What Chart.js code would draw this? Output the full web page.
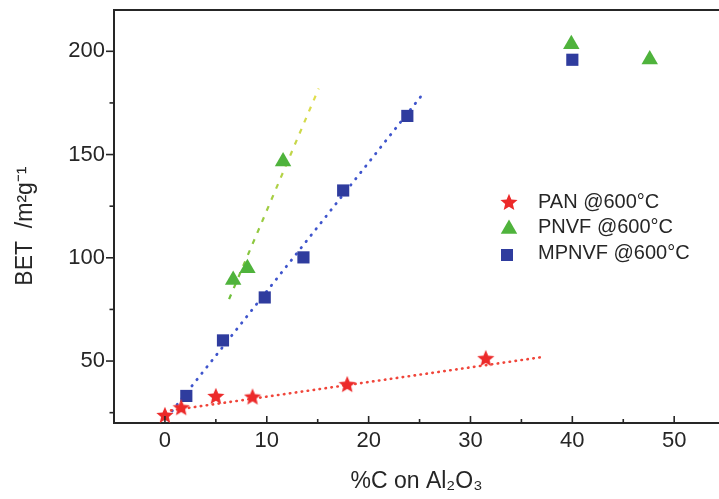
<!DOCTYPE html>
<html>
<head>
<meta charset="utf-8">
<script src="https://cdn.jsdelivr.net/npm/chart.js@4/dist/chart.umd.min.js"></script>
<style>
  html, body { margin: 0; padding: 0; background: #ffffff; }
  canvas { display: block; }
</style>
</head>
<body>
<canvas id="c" width="719" height="499"></canvas>
<script>
// ---- data ----
const seriesNames = ['PAN @600°C', 'PNVF @600°C', 'MPNVF @600°C'];

const panX = [0, 1.6, 5.0, 8.6, 17.9, 31.5];
const panY = [23.9, 27.6, 33.1, 32.8, 38.8, 51.4];

const pnvfX = [6.7, 8.1, 11.6, 39.9, 47.6];
const pnvfY = [89.2, 94.9, 146.6, 203.4, 196.0];

const mpnvfX = [2.1, 5.7, 9.8, 13.6, 17.5, 23.8, 40.0];
const mpnvfY = [33.1, 60.0, 80.8, 100.2, 132.6, 168.7, 195.9];

// linear trend lines (end points)
const panFitX = [0.6, 37.0];
const panFitY = [26.1, 51.9];
const pnvfFitX = [6.3, 15.1];
const pnvfFitY = [80.0, 182.0];
const mpnvfFitX = [0.7, 25.3];
const mpnvfFitY = [25.8, 179.2];

// axis ticks
const xTicks = [0, 10, 20, 30, 40, 50];
const xMinorTicks = [5, 15, 25, 35, 45];
const yTicks = [50, 100, 150, 200];
const yMinorTicks = [25, 75, 125, 175];

const xTitle = '%C on Al₂O₃';
const yTitle = 'BET  /m²g⁻¹   ';

// ---- styles ----
const RED = '#ec2a2a';
const GREEN = '#4fb33c';
const BLUE = '#2f3c9e';
const AXIS = '#262626';
const FONT = "'Liberation Sans', Arial, sans-serif";

function pts(xs, ys) { return xs.map((x, i) => ({ x: x, y: ys[i] })); }

function makeStar(size, color) {
  const c = document.createElement('canvas');
  c.width = size; c.height = size;
  const g = c.getContext('2d');
  const cx = size / 2, cy = size / 2 + 0.8, R = size / 2, r = R * 0.45;
  g.beginPath();
  for (let i = 0; i < 10; i++) {
    const a = -Math.PI / 2 + i * Math.PI / 5;
    const rr = (i % 2) ? r : R;
    g.lineTo(cx + rr * Math.cos(a), cy + rr * Math.sin(a));
  }
  g.closePath();
  g.fillStyle = color;
  g.fill();
  return c;
}
const starImg = makeStar(18, RED);

function greenGradient(context) {
  const ch = context.chart;
  const y = ch.scales && ch.scales.y;
  if (!y || !ch.chartArea) return '#b5d23c';
  const g = ch.ctx.createLinearGradient(0, y.getPixelForValue(pnvfFitY[0]), 0, y.getPixelForValue(pnvfFitY[1]));
  g.addColorStop(0, '#6cbf3a');
  g.addColorStop(1, '#e6df4e');
  return g;
}

const axisDecor = {
  id: 'axisDecor',
  afterDraw(chart) {
    const { ctx, chartArea: a, scales: { x, y } } = chart;
    ctx.save();
    ctx.strokeStyle = AXIS;
    ctx.lineCap = 'butt';
    // top frame line
    ctx.lineWidth = 2;
    ctx.beginPath(); ctx.moveTo(a.left - 1, a.top); ctx.lineTo(a.right, a.top); ctx.stroke();
    ctx.lineWidth = 1.6;
    const seg = (x1, y1, x2, y2) => { ctx.beginPath(); ctx.moveTo(x1, y1); ctx.lineTo(x2, y2); ctx.stroke(); };
    xTicks.forEach(v => { const p = x.getPixelForValue(v); seg(p, a.bottom, p, a.bottom - 7); });
    xMinorTicks.forEach(v => { const p = x.getPixelForValue(v); seg(p, a.bottom, p, a.bottom - 4); });
    yTicks.forEach(v => { const p = y.getPixelForValue(v); seg(a.left, p, a.left - 8, p); });
    yMinorTicks.forEach(v => { const p = y.getPixelForValue(v); seg(a.left, p, a.left - 4.5, p); });

    // legend
    const lx = 509, tx = 538, rows = [202, 227, 253];
    ctx.drawImage(starImg, lx - 9, rows[0] - 9);
    ctx.fillStyle = GREEN;
    const tr = 9.5, tcy = rows[1] + 2;
    ctx.beginPath();
    ctx.moveTo(lx, tcy - tr);
    ctx.lineTo(lx + tr * 0.866, tcy + tr * 0.5);
    ctx.lineTo(lx - tr * 0.866, tcy + tr * 0.5);
    ctx.closePath(); ctx.fill();
    ctx.fillStyle = BLUE;
    ctx.fillRect(lx - 8, rows[2] + 2 - 6, 12, 12);
    ctx.fillStyle = AXIS;
    ctx.font = '20px ' + FONT;
    ctx.textBaseline = 'middle';
    ctx.textAlign = 'left';
    seriesNames.forEach((n, i) => ctx.fillText(n, tx, rows[i]));
    ctx.restore();
  }
};

new Chart(document.getElementById('c'), {
  type: 'scatter',
  data: {
    datasets: [
      { label: seriesNames[0], data: pts(panX, panY), pointStyle: starImg, pointRadius: 9, showLine: false },
      { label: seriesNames[1], data: pts(pnvfX, pnvfY), pointStyle: 'triangle', pointRadius: 9.5,
        backgroundColor: GREEN, borderColor: GREEN, borderWidth: 0, showLine: false },
      { label: seriesNames[2], data: pts(mpnvfX, mpnvfY), pointStyle: 'rect', pointRadius: 8.6,
        backgroundColor: BLUE, borderColor: BLUE, borderWidth: 0, showLine: false },
      { label: 'PAN fit', data: pts(panFitX, panFitY), showLine: true, pointRadius: 0,
        borderColor: '#f0453a', borderWidth: 2.6, borderDash: [0.5, 5.5], borderCapStyle: 'round' },
      { label: 'PNVF fit', data: pts(pnvfFitX, pnvfFitY), showLine: true, pointRadius: 0,
        borderColor: greenGradient, borderWidth: 2.2, borderDash: [5, 7], borderCapStyle: 'butt' },
      { label: 'MPNVF fit', data: pts(mpnvfFitX, mpnvfFitY), showLine: true, pointRadius: 0,
        borderColor: '#3f55cc', borderWidth: 2.8, borderDash: [0.5, 7.5], borderCapStyle: 'round' }
    ]
  },
  options: {
    responsive: false,
    animation: false,
    devicePixelRatio: 1,
    layout: { autoPadding: false, padding: { top: 10, right: 0, left: 0, bottom: 0 } },
    plugins: { legend: { display: false }, tooltip: { enabled: false } },
    scales: {
      x: {
        type: 'linear', min: -5, max: 54.4,
        afterBuildTicks: s => { s.ticks = xTicks.map(v => ({ value: v })); },
        afterFit: s => { s.height = 76; s.paddingLeft = 0; s.paddingRight = 0; },
        grid: { display: false, drawTicks: false },
        border: { display: true, color: AXIS, width: 2 },
        ticks: { color: AXIS, padding: 5, font: { family: FONT, size: 22 }, maxRotation: 0 },
        title: { display: true, text: xTitle, color: AXIS, font: { family: FONT, size: 23 },
                 padding: { top: 0, bottom: 4 } }
      },
      y: {
        type: 'linear', min: 20, max: 220,
        afterBuildTicks: s => { s.ticks = yTicks.map(v => ({ value: v })); },
        afterFit: s => { s.width = 114; s.paddingTop = 0; s.paddingBottom = 0; },
        grid: { display: false, drawTicks: false },
        border: { display: true, color: AXIS, width: 2 },
        ticks: { color: AXIS, padding: 9, font: { family: FONT, size: 22 } },
        title: { display: true, text: yTitle, color: AXIS, font: { family: FONT, size: 23 },
                 padding: { top: 12, bottom: 0 } }
      }
    }
  },
  plugins: [axisDecor]
});
</script>
</body>
</html>
